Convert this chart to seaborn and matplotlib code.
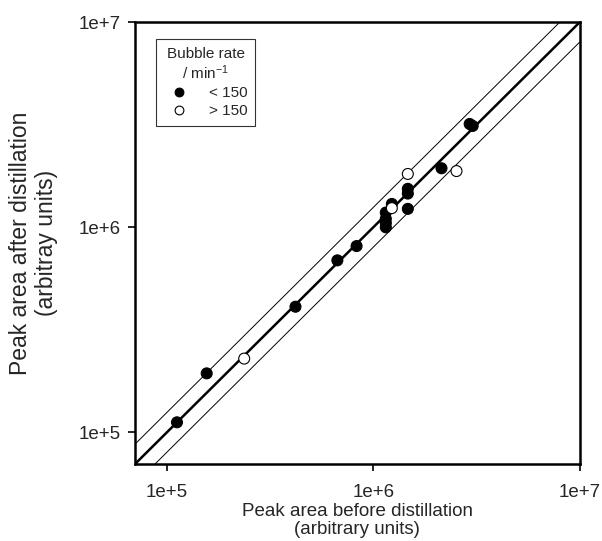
import numpy as np
import pandas as pd
import seaborn as sns
import matplotlib.pyplot as plt

# Peak areas (arbitrary units)
before_low = [1.12e5, 1.56e5, 4.2e5, 6.7e5, 8.3e5, 1.15e6, 1.15e6, 1.15e6, 1.15e6,
              1.23e6, 1.47e6, 1.47e6, 1.47e6, 2.14e6, 2.93e6, 3.03e6]
after_low = [1.12e5, 1.94e5, 4.1e5, 6.9e5, 8.1e5, 1.18e6, 1.10e6, 1.05e6, 1.00e6,
             1.30e6, 1.54e6, 1.46e6, 1.23e6, 1.94e6, 3.19e6, 3.12e6]
before_high = [2.37e5, 1.47e6, 2.53e6, 1.23e6]
after_high = [2.29e5, 1.82e6, 1.88e6, 1.24e6]
rate_labels = ['< 150', '> 150']

axis_lim = [7e4, 1e7]
tick_vals = [1e5, 1e6, 1e7]
tick_labels = ['1e+5', '1e+6', '1e+7']
band_ratio = 1.25

df = pd.DataFrame({
    'before': before_low + before_high,
    'after': after_low + after_high,
    'rate': [rate_labels[0]] * len(before_low) + [rate_labels[1]] * len(before_high),
})

sns.set_style('ticks')
plt.rcParams['font.family'] = ['Liberation Sans', 'DejaVu Sans']
plt.rcParams['mathtext.default'] = 'regular'
plt.rcParams['axes.unicode_minus'] = False

fig = plt.figure(figsize=(6.02, 5.41), dpi=100)
ax = fig.add_axes([0.224, 0.142, 0.739, 0.817])

# 1:1 line and the +/- band
line_x = np.array(axis_lim)
sns.lineplot(x=line_x, y=line_x, ax=ax, color='black', lw=1.8)
sns.lineplot(x=line_x, y=line_x * band_ratio, ax=ax, color='black', lw=0.7)
sns.lineplot(x=line_x, y=line_x / band_ratio, ax=ax, color='black', lw=0.7)

sns.scatterplot(data=df, x='before', y='after', hue='rate', ax=ax,
                palette={rate_labels[0]: 'black', rate_labels[1]: 'white'},
                edgecolor='black', linewidth=0.8, s=62, zorder=3)

ax.set_xscale('log')
ax.set_yscale('log')
ax.set_xlim(axis_lim)
ax.set_ylim(axis_lim)
ax.set_xticks(tick_vals, labels=tick_labels)
ax.set_yticks(tick_vals, labels=tick_labels)
ax.minorticks_off()
ax.tick_params(direction='out', length=5, width=1.2, labelsize=13.5, color='black')
ax.tick_params(axis='x', pad=9)
ax.tick_params(axis='y', pad=5)
for sp in ax.spines.values():
    sp.set_visible(True)
    sp.set_linewidth(1.8)
    sp.set_color('black')

ax.set_xlabel('Peak area before distillation\n(arbitrary units)', fontsize=13.5,
              linespacing=1.05, labelpad=2)
ax.set_ylabel('Peak area after distillation\n(arbitray units)', fontsize=16.5,
              linespacing=1.15, labelpad=15)

leg = ax.legend(title='Bubble rate\n/ min$^{-1}$', loc='upper left',
                bbox_to_anchor=(0.047, 0.962), borderaxespad=0,
                fontsize=11, title_fontsize=11,
                frameon=True, fancybox=False, edgecolor='black', markerscale=0.8,
                handletextpad=1.0, borderpad=0.5, labelspacing=0.25)
leg.get_frame().set_linewidth(0.8)
leg.get_title().set_multialignment('center')

plt.savefig('out.png', dpi=100)
